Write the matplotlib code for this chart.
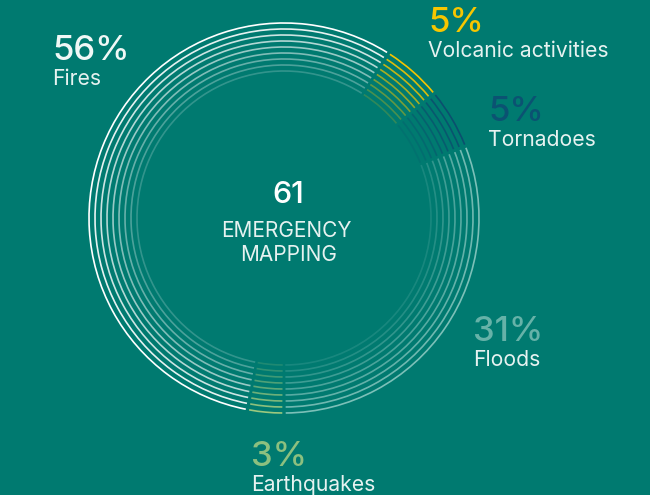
import matplotlib.pyplot as plt
from matplotlib.patches import Arc

# Données
categories = ["Volcanic activities", "Tornadoes", "Floods", "Earthquakes", "Fires"]
shares = [5, 5, 31, 3, 56]
seg_colors = ["#F5C400", "#0B4F6E", "#7CC0B8", "#9CC87E", "#FFFFFF"]
pct_colors = ["#F7C600", "#0B5272", "#66B2A8", "#8CC07F", "#F0F8F6"]
total_count = 61
center_label = ["EMERGENCY", "MAPPING"]

# Position des étiquettes (pixels, coin haut gauche de l'image)
label_pos = [(428, 32), (488, 121), (473, 341), (251, 466), (52, 60)]

bg = "#007A70"
W, H = 650, 495
cx, cy = 284, H - 218
n_rings = 9
r_outer, r_step = 195, 6
gap = 0.5

plt.rcParams['font.family'] = ['Inter', 'DejaVu Sans']

fig = plt.figure(figsize=(6.5, 4.95), dpi=100)
fig.patch.set_facecolor(bg)
ax = fig.add_axes([0, 0, 1, 1])
ax.set_facecolor(bg)
ax.set_xlim(0, W)
ax.set_ylim(0, H)
ax.set_aspect("equal")
ax.axis("off")

# Angle de départ (sens horaire depuis le haut) : les séismes commencent en bas
start = 180 - sum(shares[:3]) * 3.6
bounds = []
a = start
for s in shares:
    bounds.append((a, a + s * 3.6))
    a += s * 3.6

for i in range(n_rings):
    r = r_outer - i * r_step
    alpha = 1.0 - i * 0.1
    for (a0, a1), col in zip(bounds, seg_colors):
        # conversion horaire-depuis-le-haut -> trigonométrique
        t1 = 90 - (a0 + gap)
        t2 = 90 - (a1 - gap)
        arc = Arc((cx, cy), 2 * r, 2 * r, theta1=t2, theta2=t1,
                  color=col, lw=1.2, alpha=max(alpha, 0.12))
        ax.add_patch(arc)

for (x, y), cat, s, pc in zip(label_pos, categories, shares, pct_colors):
    ax.text(x, H - y, f"{s}%", color=pc, fontsize=25, fontweight="medium",
            ha="left", va="baseline")
    ax.text(x, H - y - 25, cat, color="#E6F2F0", fontsize=15.2,
            ha="left", va="baseline")

ax.text(288, H - 203, str(total_count), color="#FFFFFF", fontsize=22,
        fontweight="medium", ha="center", va="baseline")
ax.text(286, H - 237, center_label[0], color="#E6F2F0", fontsize=15,
        ha="center", va="baseline")
ax.text(289, H - 261, center_label[1], color="#E6F2F0", fontsize=15,
        ha="center", va="baseline")

fig.savefig("out.png", dpi=100, facecolor=bg)
